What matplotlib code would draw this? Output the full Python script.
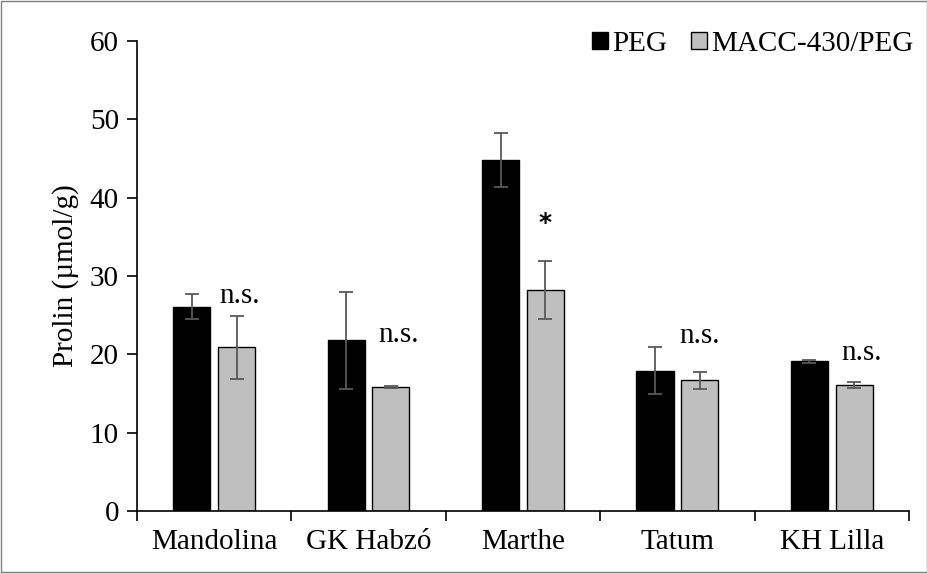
import numpy as np
import matplotlib
matplotlib.use("Agg")
import matplotlib.pyplot as plt
from matplotlib.patches import Rectangle

# data
cultivars = ["Mandolina", "GK Habzó", "Marthe", "Tatum", "KH Lilla"]
peg = [26.1, 21.8, 44.8, 17.9, 19.1]
peg_err = [1.6, 6.2, 3.4, 3.0, 0.2]
macc = [20.9, 15.8, 28.2, 16.7, 16.1]
macc_err = [4.0, 0.1, 3.7, 1.1, 0.4]
sig_labels = ["n.s.", "n.s.", "*", "n.s.", "n.s."]
sig_y = [26.6, 21.6, 36.8, 21.5, 19.3]
sig_dx = [0.02, 0.05, 0.0, 0.0, 0.05]

plt.rcParams["font.family"] = ["Liberation Serif", "DejaVu Serif"]
FS = 21

fig = plt.figure(figsize=(9.28, 5.73), dpi=100)
ax = fig.add_axes([0.1476, 0.1082, 0.8319, 0.8202])

x = np.arange(len(cultivars))
w = 0.24
off = 0.145
err_kw = dict(ecolor="#595959", elinewidth=1.3, capsize=5, capthick=1.3)

ax.bar(x - off, peg, w, color="black", edgecolor="black", linewidth=1,
       yerr=peg_err, error_kw=err_kw, label="PEG", zorder=2)
ax.bar(x + off, macc, w, color="#bfbfbf", edgecolor="black", linewidth=1,
       yerr=macc_err, error_kw=err_kw, label="MACC-430/PEG", zorder=2)

# significance marks above the MACC bars
for i, s in enumerate(sig_labels):
    if s == "*":
        ax.text(x[i] + off, sig_y[i], s, ha="center", va="center",
                fontsize=18, fontweight="bold", family="DejaVu Sans")
    else:
        ax.text(x[i] + off + sig_dx[i], sig_y[i], s, ha="center", va="baseline",
                fontsize=FS)

ax.set_xlim(-0.5, len(cultivars) - 0.5)
ax.set_ylim(0, 60)
ax.set_yticks(np.arange(0, 61, 10))
ax.set_xticks(x)
ax.set_xticklabels(cultivars)
ax.set_xticks(np.arange(-0.5, len(cultivars), 1), minor=True)
ax.tick_params(axis="x", which="major", length=0, labelsize=FS, pad=13)
ax.tick_params(axis="x", which="minor", length=7, width=1.2, direction="out")
ax.tick_params(axis="y", length=7, width=1.2, labelsize=FS, pad=6)
ax.set_ylabel("Prolin (µmol/g)", fontsize=FS, labelpad=8)

for side in ["top", "right"]:
    ax.spines[side].set_visible(False)
for side in ["left", "bottom"]:
    ax.spines[side].set_linewidth(1.2)

fig.legend(loc="upper right", bbox_to_anchor=(1.0, 0.972), ncol=2,
           frameon=False, fontsize=FS, handlelength=0.55, handleheight=0.55,
           handletextpad=0.15, columnspacing=0.8, borderaxespad=0.1)

fig.patches.append(Rectangle((0.001, 0.001), 0.998, 0.998, transform=fig.transFigure,
                             fill=False, edgecolor="#7f7f7f", linewidth=1))

fig.savefig("out.png", dpi=100)
